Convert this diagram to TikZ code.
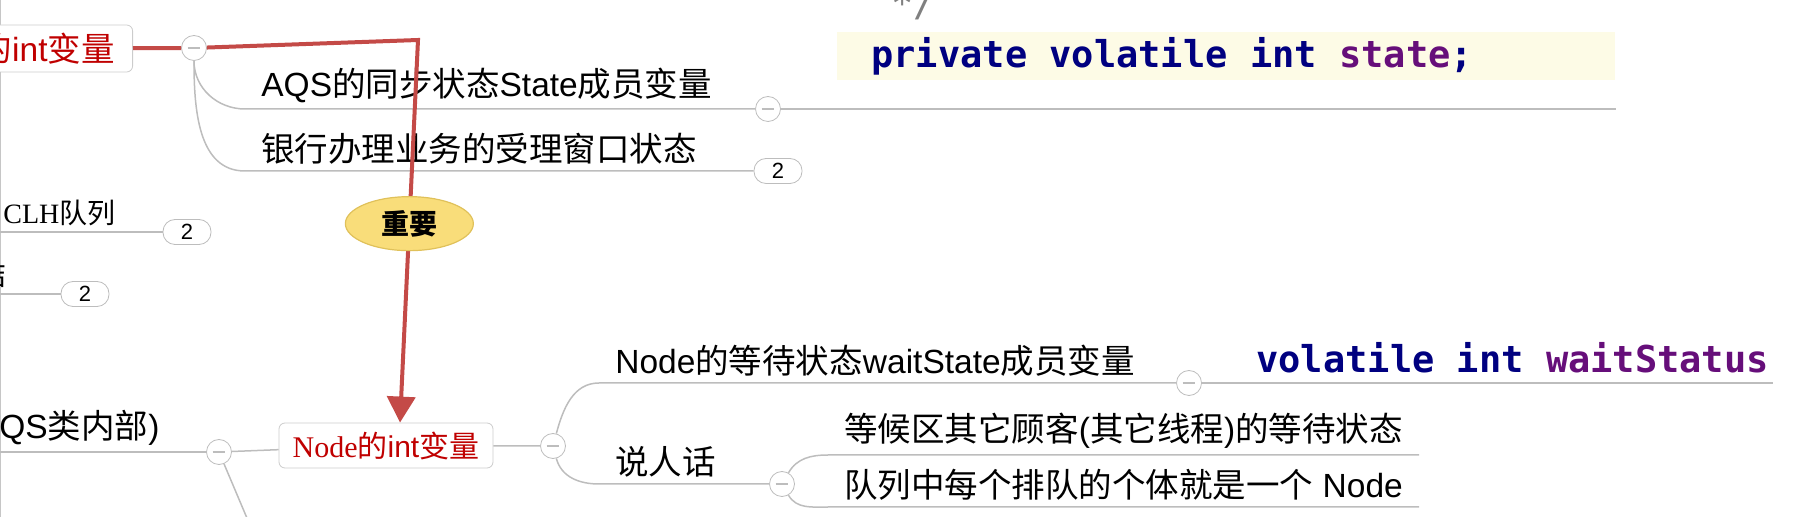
\documentclass[tikz,border=0pt]{standalone}
\usepackage{fontspec}
\setmainfont{Noto Sans CJK SC}
\newfontfamily\lat{Liberation Sans}
\newfontfamily\ser{Liberation Serif}
\newfontfamily\code{DejaVu Sans Mono}
\usetikzlibrary{arrows.meta,shapes.geometric}
\newcommand{\sihao}{\fontsize{14pt}{16pt}\selectfont}
\newcommand{\xiaosan}{\fontsize{15pt}{18pt}\selectfont}
\newcommand{\zhuti}{\fontsize{16.75pt}{20pt}\selectfont}
\newcommand{\daima}{\fontsize{18.5pt}{22pt}\selectfont}
\newcommand{\jiaobiao}{\fontsize{11pt}{13pt}\selectfont}
\definecolor{hong}{HTML}{C44A47}
\definecolor{hongzi}{HTML}{C00000}
\definecolor{huang}{HTML}{F9DD7A}
\definecolor{huangbian}{HTML}{E0C15A}
\definecolor{xian}{HTML}{BDBDBD}
\definecolor{kw}{HTML}{000080}
\definecolor{fld}{HTML}{660E7A}
\definecolor{beijing}{HTML}{FDFBE6}

\tikzset{
  topic/.style={anchor=south west,inner xsep=8pt,inner ysep=3pt,font=\zhuti},
  fold/.style={circle,draw=xian,fill=white,minimum size=12.5pt,inner sep=0pt,
    path picture={\draw[line width=1.2pt] ([xshift=-3.2pt]path picture bounding box.center) -- ([xshift=3.2pt]path picture bounding box.center);}},
  pill/.style={draw=xian,fill=white,rounded corners=6pt,minimum width=24pt,minimum height=12.5pt,inner sep=0pt,font=\lat\jiaobiao},
  redbox/.style={draw=gray!40,fill=white,rounded corners=3pt,text=hongzi},
  branch/.style={draw=xian,line width=0.75pt},
  codetext/.style={anchor=west,inner sep=2pt,font=\code\bfseries\daima},
  redline/.style={draw=hong,line width=2pt,-{Triangle[length=13pt,width=14pt]}},
  imp/.style={ellipse,draw=huangbian,fill=huang,line width=0.6pt,minimum width=64pt,minimum height=27pt,inner sep=0pt,font=\sihao\bfseries}
}

\begin{document}
\begin{tikzpicture}[x=0.5pt,y=0.5pt]
\useasboundingbox (0,0) rectangle (1793,-517);
\clip (0,0) rectangle (1793,-517);
%window edge
\draw[gray!45,line width=0.6pt] (0.6,0) -- (0.6,-517);
%upper part
\node[redbox,font=\zhuti,anchor=east,inner xsep=9pt,minimum height=23.5pt] (topInt) at (133,-48.5) {的{\lat int}变量};
\node[fold] (c1) at (194,-48) {};
\node[topic] (tAQS) at (245,-109) {{\lat AQS}的同步状态{\lat State}成员变量};
\node[topic] (tBank) at (245,-171) {银行办理业务的受理窗口状态};
\node[fold] (c2) at (768,-109) {};
\node[pill] (p1) at (778,-171) {2};
%code picture
\node[anchor=west,fill=beijing,minimum width=389pt,minimum height=24pt,inner sep=0pt] (codeA) at (837,-56) {};
\node[codetext] (stateTxt) at ([xshift=15pt]codeA.west) {\color{kw}private volatile int \color{fld}state\color{kw};};
\node[anchor=base west,text=gray,font=\code\daima,inner sep=0pt] (cmt) at (891,-17) {*/};
%left middle
\node[topic,font=\sihao] (tCLH) at (-13,-232) {{\ser CLH}队列};
\node[pill] (p2) at (187,-232) {2};
\node[topic,font=\sihao,anchor=south east,inner xsep=0pt] (tSum) at (7,-294) {结};
\node[pill] (p3) at (85,-294) {2};
%lower part
\node[topic] (tQS) at (-17,-452) {{\lat QS}类内部{\lat )}};
\node[fold] (c4) at (219,-452) {};
\coordinate (dn) at (252,-530);
\node[redbox,font=\xiaosan,minimum width=107pt,minimum height=22.5pt] (nInt) at (386,-445.5) {{\ser Node}的{\lat int}变量};
\node[fold] (c5) at (553,-446) {};
\node[topic] (tWait) at (599,-383) {{\lat Node}的等待状态{\lat waitState}成员变量};
\node[topic] (tTalk) at (599,-484) {说人话};
\node[fold] (c3) at (1189,-383) {};
\node[codetext] (codeB) at (1252,-358) {\color{kw}volatile int \color{fld}waitStatus};
\node[fold] (c6) at (782,-484) {};
\node[topic] (tOther) at (828,-455) {等候区其它顾客{\lat(}其它线程{\lat)}的等待状态};
\node[topic] (tQueue) at (828,-507) {队列中每个排队的个体就是一个{\lat\ Node}};
%branches
\draw[branch] (c1) to[out=-90,in=180] (tAQS.south west) -- (c2);
\draw[branch] (c1) to[out=-90,in=180] (tBank.south west) -- (p1);
\draw[branch] (c2) -- (c2 -| codeA.east);
\draw[branch] (tCLH.south west) -- (p2);
\draw[branch] (tSum.south west) -- (p3);
\draw[branch] (tQS.south west) -- (c4);
\draw[branch] (c4) -- (nInt);
\draw[branch] (c4) -- (dn);
\draw[branch] (nInt) -- (c5);
\draw[branch] (c5) to[out=75,in=180] (tWait.south west) -- (c3);
\draw[branch] (c3) -- (c3 -| codeB.east);
\draw[branch] (c5) to[out=-75,in=180] (tTalk.south west) -- (c6);
\draw[branch] (c6) to[out=60,in=180] (tOther.south west) -- (tOther.south east);
\draw[branch] (c6) to[out=-60,in=180] (tQueue.south west) -- (tQueue.south east);
%red relation
\coordinate (zhe) at (418,-40);
\draw[redline] (topInt) -- (c1) -- (zhe) -- node[imp,pos=0.48] (zy) {重要} ([xshift=7pt]nInt.north);
\end{tikzpicture}
\end{document}
